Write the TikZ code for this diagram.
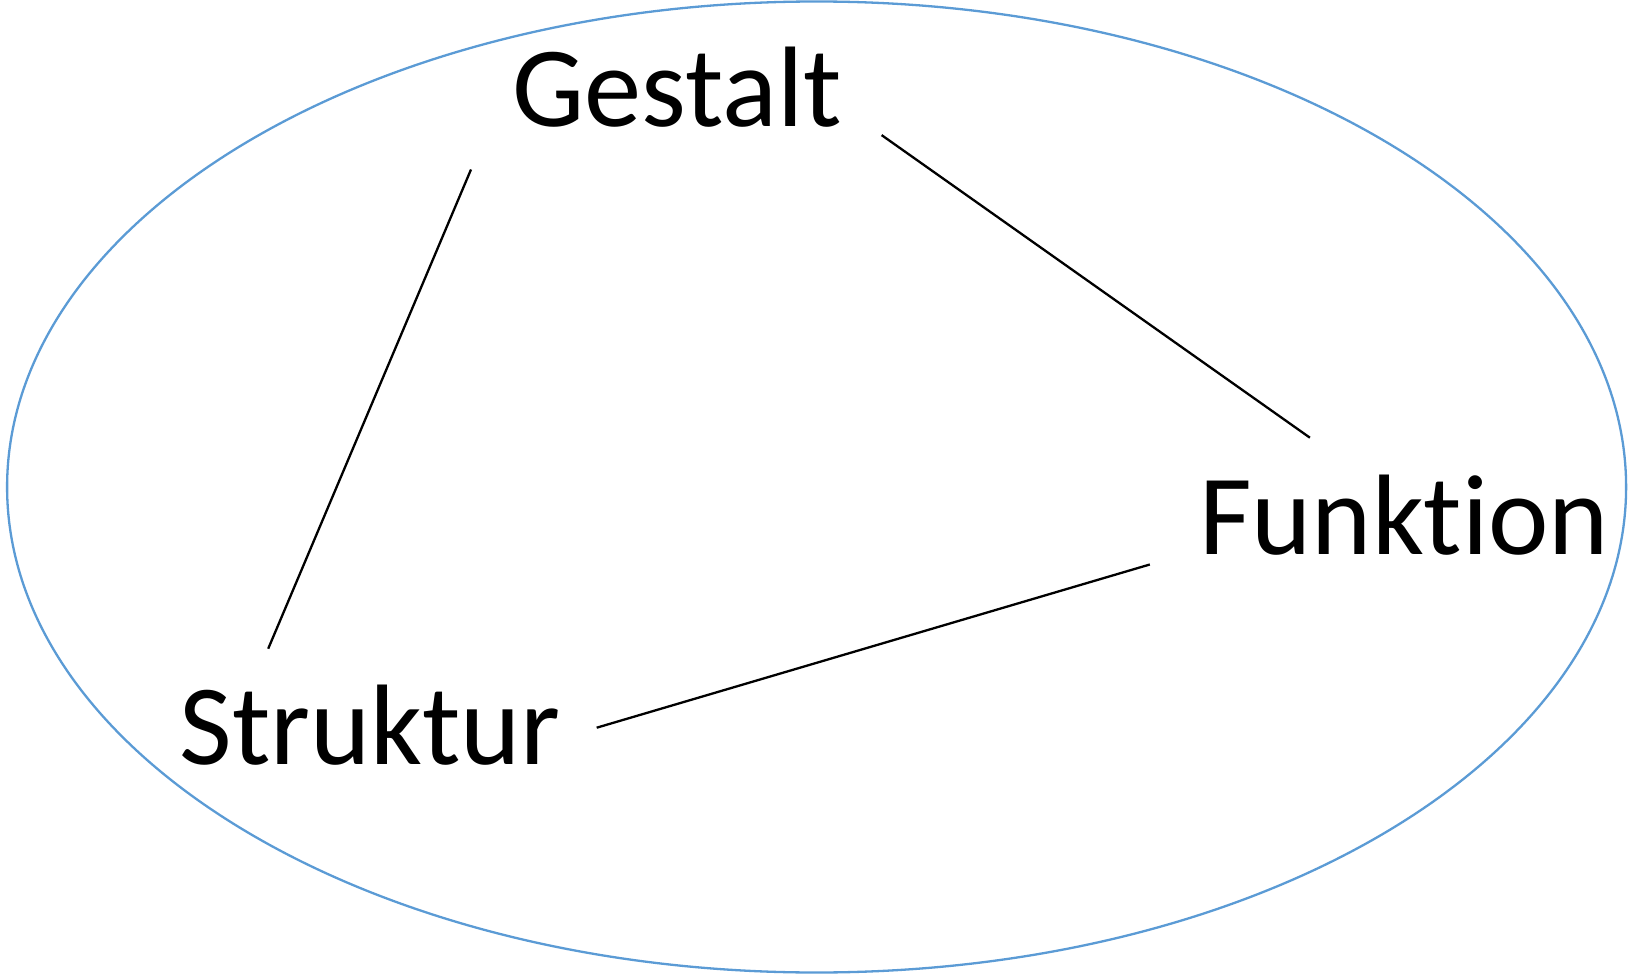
\documentclass[tikz,border=0pt]{standalone}
\usepackage{fontspec}
\setmainfont{Carlito}[Ligatures=NoCommon]
\begin{document}
\begin{tikzpicture}[x=1pt,y=-1pt,
  word/.style={anchor=base,inner sep=0pt,font=\fontsize{114.5}{114.5}\selectfont},
  link/.style={draw=black,line width=2.3pt}]
\useasboundingbox (0,0) rectangle (1630,976);
\definecolor{ringblue}{HTML}{5B9BD5}
\draw[ringblue,line width=2.3pt] (816.6,487) ellipse [x radius=809.5, y radius=485.5];
\node[word] (gestalt) at (677,127) {Gestalt};
\node[word] (funktion) at (1404,554) {Funktion};
\node[word] (struktur) at (370,764) {Struktur};
\coordinate (gs1) at (471,169.5);
\coordinate (gs2) at (268.2,648.7);
\coordinate (gf1) at (881.6,135.1);
\coordinate (gf2) at (1309.9,437.7);
\coordinate (sf1) at (596.7,727.7);
\coordinate (sf2) at (1149.8,564.5);
\draw[link] (gs1) -- (gs2);
\draw[link] (gf1) -- (gf2);
\draw[link] (sf1) -- (sf2);
\end{tikzpicture}
\end{document}
